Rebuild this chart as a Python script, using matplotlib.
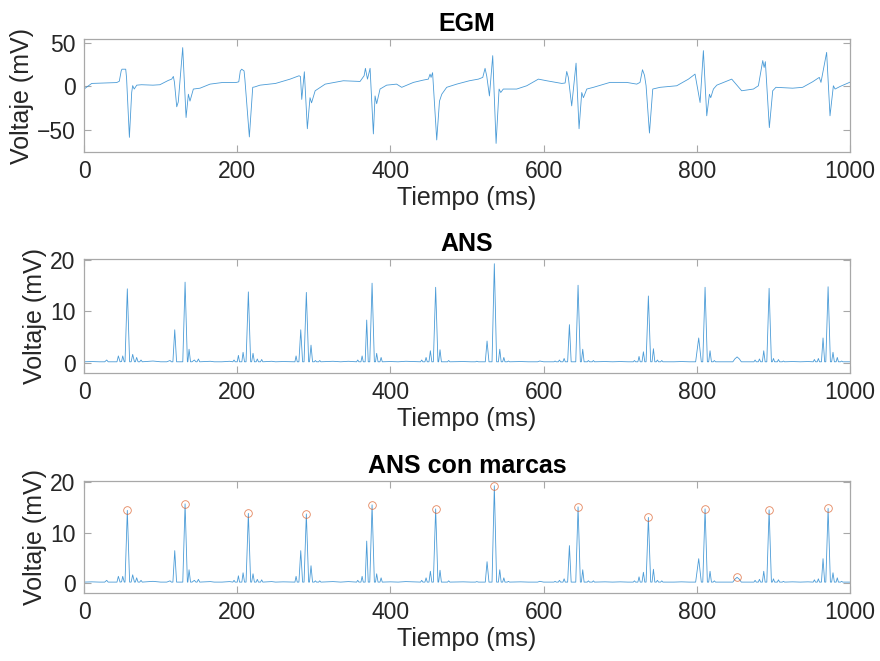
import matplotlib
matplotlib.use("Agg")
import matplotlib.pyplot as plt
import numpy as np

plt.rcParams["font.family"] = ["Liberation Sans", "DejaVu Sans"]

# EGM trace, vertices (ms, mV)
egm_t = [0, 10, 25, 42.6, 46, 48.5, 49.5, 54.4, 55.5, 59.2, 62.2, 63.5, 65.5, 68.8, 75, 90, 99,
         110, 114.4, 116.6, 118, 121, 123, 128.8, 133.2, 136.2, 138.3, 142.7, 151.4, 164.5, 180,
         199, 202, 204, 205.8, 208.9, 210, 215.8, 220.2, 223, 229.7, 250, 269, 280.7, 282.5,
         284.2, 287.6, 291.5, 295, 297, 301.7, 314.8, 338.5, 360.3, 365.6, 367.3, 370, 373.4,
         377.7, 379.9, 382, 386.4, 395, 408, 414.7, 430, 443, 449.5, 451.7, 453, 455, 460.4,
         464, 467, 473.4, 486.5, 503, 514.8, 520.5, 523.5, 525.7, 529.2, 533.5, 537.9, 541.8,
         544, 547.3, 564.8, 577.9, 593.1, 604, 623.6, 628, 630.1, 632.2, 636.6, 642.3, 646.2,
         649.7, 651.9, 656.3, 665, 686.6, 708.4, 721.5, 725.8, 729, 731.6, 733.7, 738.1, 742.4,
         752, 773.7, 789, 797.6, 804.2, 808.5, 812.9, 816.4, 818.1, 821.6, 826, 845.5, 858.5,
         873.8, 880.3, 886, 887.8, 889.4, 894.6, 899, 903.2, 925, 938.1, 951.1, 959.8, 962,
         969.4, 973.8, 978.2, 980.4, 987, 999.2, 1000]
egm_v = [-3, 3.5, 4, 4.5, 6, 18, 20, 20, 10, -59, -7, 1, -3, 1.5, 2, 1.5, 2,
         7, 8.5, 11.6, 5, -23.6, -18, 45, -36, -9, -17, -3, -2, 2.7, 4.5,
         4.7, 5.4, 18, 20, 18, 8, -58.5, -1, -0.5, 1.5, 3.5, 8.5, 12.4, 11.5,
         -15, 17, -49, -13, -19, -5, 2.7, 6.6, 5.8, 12.4, 21, 8.5, 21,
         -55, -11, -20, -3, 1.5, 2.7, -1, 4.7, 7.4, 8.5, 14.3, 10.5, 16, -62,
         -17, -9, -1, 2.7, 6.6, 8.5, 10.5, 21, 12, -11, 35.7, -66, -3,
         -7, -3, -3, 0.8, 8.5, 6.6, 3.5, 4, 17.4, 10.5, -22.5, 27, -49,
         -7, -13, -3, -1, 4.7, 4.7, 2.7, 4.7, 19.4, 13, 0.8, -54, -3,
         -1, 0.8, 8.5, 14.3, -18.6, 41.5, -34, -9, -13, -3, 1.5, 8.5, -5,
         -3, 0.8, 30, 22, 28.7, -47.7, -5, -1, -2, -1, 5.4, 10.5, 4.7,
         39.5, -34, 0.8, -3, 0, 4.7, 5]

# detected ANS peaks (ms, mV)
peak_t = [56.5, 131.9, 214.5, 290.2, 376, 459, 535.6, 644.9, 736.7, 810.7, 852.5, 894.3, 971.3]
peak_v = [14.4, 15.7, 13.8, 13.7, 15.5, 14.7, 19.3, 15.1, 13.0, 14.7, 1.1, 14.5, 14.8]

# rest of the ANS envelope: baseline and secondary bumps (ms, mV)
ans_t = [0, 10, 20, 27, 29.6, 31.5, 43, 44.8, 47, 49, 50.5, 52.5, 53.5, 59.5, 61.5, 63.5, 65.8,
         67, 68.7, 70.5, 72.7, 74.4, 76, 90, 100, 108, 112.3, 114, 116, 118.4, 120.8, 128.9,
         134.9, 135.5, 137.1, 139, 141, 144, 146, 147.5, 149.3, 151, 165, 170, 180, 190,
         194.3, 195.8, 197.3, 200, 201.5, 203, 206, 207.6, 209.5, 211.5, 217.5, 218.8, 220.6,
         222.4, 224.7, 226.2, 227.7, 230.4, 231.9, 233.4, 245, 250, 260,
         275.3, 276.8, 278.3, 280.5, 282.9, 285.3, 287.2, 293.2, 294.3, 296.3, 298.3, 300.5,
         302, 303.5, 306.2, 307.7, 309.2, 325, 335, 345,
         355.8, 357.3, 358.8, 361.5, 363, 364.5, 367, 369, 371, 373, 379, 380.5, 382,
         383.8, 386.3, 387.8, 389.3, 400, 410, 420,
         439.3, 440.8, 442.3, 445, 446.5, 448, 450.3, 452.1, 454, 456, 462, 462.9, 464.7,
         466.5, 474.5, 476, 477.5, 495, 505,
         511, 512.6, 515, 523.8, 526.1, 528.6, 532.6, 538.6, 540.9, 542.7, 544.5, 546.5, 548,
         549.5, 552.5, 554, 555.5, 570, 580, 592, 595, 600,
         613.4, 614.9, 616.4, 619.1, 620.6, 622.1, 625.2, 626.7, 628.2, 631.3, 633.6, 635.9,
         641.9, 647.9, 649.2, 651, 652.8, 656.9, 658.4, 659.9, 663.4, 664.9, 666.4, 680, 690,
         700, 710,
         717, 718.5, 720, 723, 724.5, 726, 728.4, 730.2, 732, 733.7, 739.7, 741.5, 743.3, 745.1,
         747, 748.5, 750, 752.7, 754.2, 755.7, 770, 780, 790,
         798.4, 802.4, 805.8, 807.7, 813.7, 815.4, 817.2, 819, 821.3, 822.8, 824.3, 835,
         847, 849.5, 855.5, 858, 865,
         874.5, 876, 877.5, 880.2, 881.7, 883.2, 885.5, 887.3, 889.1, 891.3, 897.3, 898.5, 900,
         901.5, 905, 906.5, 908, 911.5, 913, 914.5, 925, 935, 945,
         951.9, 953.4, 954.9, 957.1, 958.6, 960.1, 962.6, 964.7, 966.8, 968.3, 974.3, 975.9,
         977.7, 979.5, 981.8, 983.3, 984.8, 987.5, 989, 990.5, 1000]
ans_v = [0.15, 0.2, 0.15, 0.15, 0.5, 0.15, 0.15, 1.3, 0.15, 0.2, 1.3, 0.15, 0.15, 0.15, 0.15, 1.6, 0.15,
         0.15, 1.0, 0.15, 0.15, 0.5, 0.15, 0.3, 0.15, 0.15, 0.4, 0.15, 0.15, 6.4, 0.15, 0.15,
         0.15, 0.15, 2.6, 0.15, 0.15, 0.5, 0.15, 0.15, 0.7, 0.15, 0.25, 0.15, 0.15, 0.25,
         0.15, 0.5, 0.15, 0.15, 1.4, 0.15, 0.15, 2.0, 0.15, 0.15, 0.15, 0.15, 1.8,
         0.15, 0.15, 0.7, 0.15, 0.15, 0.6, 0.15, 0.25, 0.15, 0.2,
         0.15, 1.3, 0.15, 0.15, 6.4, 0.15, 0.15, 0.15, 0.15, 3.4, 0.15, 0.15,
         0.4, 0.15, 0.15, 0.4, 0.15, 0.25, 0.15, 0.25,
         0.15, 0.5, 0.15, 0.15, 1.3, 0.15, 0.15, 8.3, 0.15, 0.15, 0.15, 0.15, 1.8,
         0.15, 0.15, 1.0, 0.15, 0.2, 0.15, 0.25,
         0.15, 0.5, 0.15, 0.15, 1.0, 0.15, 0.15, 2.3, 0.15, 0.15, 0.15, 0.15, 2.5,
         0.15, 0.15, 0.4, 0.15, 0.2, 0.15,
         0.15, 0.25, 0.15, 0.15, 4.2, 0.15, 0.15, 0.15, 0.15, 2.6, 0.15, 0.15, 1.0,
         0.15, 0.15, 0.3, 0.15, 0.2, 0.15, 0.15, 0.3, 0.15,
         0.15, 0.3, 0.15, 0.15, 0.5, 0.15, 0.15, 0.8, 0.15, 0.15, 7.4, 0.15,
         0.15, 0.15, 0.15, 2.6, 0.15, 0.15, 0.4, 0.15, 0.15, 0.4, 0.15, 0.2, 0.15,
         0.2, 0.15,
         0.15, 0.4, 0.15, 0.15, 1.2, 0.15, 0.15, 2.1, 0.15, 0.15, 0.15, 0.15, 2.7, 0.15,
         0.15, 0.5, 0.15, 0.15, 0.4, 0.15, 0.15, 0.2, 0.15,
         0.15, 4.8, 0.15, 0.15, 0.15, 0.15, 2.3, 0.15, 0.15, 0.4, 0.15, 0.15,
         0.15, 0.7, 0.7, 0.15, 0.15,
         0.15, 0.5, 0.15, 0.15, 0.7, 0.15, 0.15, 2.3, 0.15, 0.15, 0.15, 0.15, 0.8,
         0.15, 0.15, 0.6, 0.15, 0.15, 0.3, 0.15, 0.2, 0.15, 0.2,
         0.15, 0.6, 0.15, 0.15, 0.8, 0.15, 0.15, 4.8, 0.15, 0.15, 0.15, 0.15,
         2.0, 0.15, 0.15, 1.0, 0.15, 0.15, 0.3, 0.15, 0.15]

# merge peaks into the envelope
all_t = np.array(ans_t + peak_t)
all_v = np.array(ans_v + peak_v)
order = np.argsort(all_t, kind="stable")
ans_line_t = all_t[order]
ans_line_v = all_v[order]

BLUE = "#2b8ad0"
ORANGE = "#D95319"
AX_GRAY = "#a8a8a8"
TXT = "#262626"

fig = plt.figure(figsize=(8.8, 6.61), dpi=100)


def style_axes(ax, title, ylim, yticks):
    ax.set_xlim(0, 1000)
    ax.set_ylim(*ylim)
    ax.set_xticks([0, 200, 400, 600, 800, 1000])
    ax.set_yticks(yticks)
    ax.set_title(title, fontsize=18, fontweight="bold", color="black", pad=6)
    ax.set_xlabel("Tiempo (ms)", fontsize=18, color=TXT, labelpad=2)
    ax.set_ylabel("Voltaje (mV)", fontsize=18, color=TXT, labelpad=2)
    ax.tick_params(direction="in", length=5, width=0.8, color=AX_GRAY,
                   labelsize=16.5, labelcolor=TXT, top=True, right=True, pad=6)
    for s in ax.spines.values():
        s.set_color(AX_GRAY)
        s.set_linewidth(0.9)


ax1 = fig.add_axes([0.0955, 0.770, 0.8705, 0.171])
ax1.plot(egm_t, egm_v, color=BLUE, linewidth=0.6, alpha=0.85)
style_axes(ax1, "EGM", (-76, 55), [-50, 0, 50])

ax2 = fig.add_axes([0.0955, 0.436, 0.8705, 0.172])
ax2.plot(ans_line_t, ans_line_v, color=BLUE, linewidth=0.6, alpha=0.85)
style_axes(ax2, "ANS", (-2, 20.2), [0, 10, 20])

ax3 = fig.add_axes([0.0955, 0.103, 0.8705, 0.169])
ax3.plot(ans_line_t, ans_line_v, color=BLUE, linewidth=0.6, alpha=0.85)
ax3.plot(peak_t, peak_v, linestyle="none", marker="o", markersize=5.5,
         markerfacecolor="none", markeredgecolor=ORANGE, markeredgewidth=0.6, alpha=0.7)
style_axes(ax3, "ANS con marcas", (-2, 20.2), [0, 10, 20])

fig.savefig("out.png", dpi=100)
